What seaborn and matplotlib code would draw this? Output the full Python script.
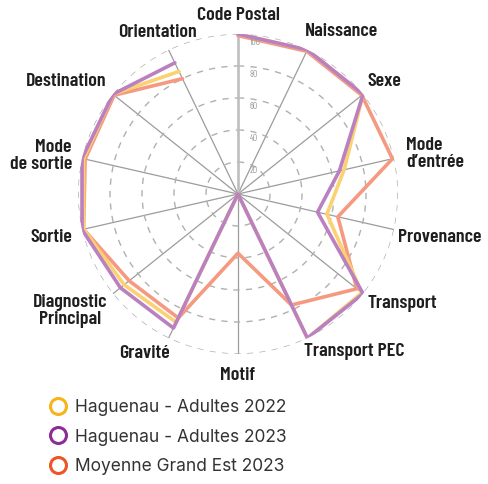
import numpy as np
import matplotlib
matplotlib.use("Agg")
import matplotlib.pyplot as plt
import matplotlib.transforms as mtransforms
from matplotlib.lines import Line2D
import seaborn as sns

# données du radar (lecture du graphique)
axes_labels = ["Code Postal", "Naissance", "Sexe", "Mode\nd’entrée", "Provenance",
               "Transport", "Transport PEC", "Motif", "Gravité", "Diagnostic\nPrincipal",
               "Sortie", "Mode\nde sortie", "Destination", "Orientation"]
hag_2022 = [100, 100, 100, 68, 57, 99, 100, 0, 89, 91, 99, 99, 100, 85]
hag_2023 = [100, 100, 100, 65, 51, 100, 100, 0, 93, 94, 100, 100, 100, 91]
grand_est = [99, 99, 99, 99, 64, 95, 77, 37, 86, 87, 99, 98, 99, 80]
series_names = ["Haguenau - Adultes 2022", "Haguenau - Adultes 2023", "Moyenne Grand Est 2023"]
ring_ticks = [20, 40, 60, 80, 100]

marker_colors = ["#f8b31b", "#8c2c94", "#ef5424"]
line_colors = ["#fbd171", "#ba80c0", "#f59a80"]

sns.set_style("white")
plt.rcParams['font.family'] = ['Inter', 'DejaVu Sans']
label_font = ['Barlow Condensed', 'Roboto Condensed', 'DejaVu Sans']

W, H = 489, 484
fig = plt.figure(figsize=(W / 100, H / 100), dpi=100)
cx, cy, R = 238, 194, 160
ax = fig.add_axes([(cx - R) / W, (H - cy - R) / H, 2 * R / W, 2 * R / H], projection='polar')
ax.set_theta_zero_location('N')
ax.set_theta_direction(-1)

n = len(axes_labels)
theta = np.linspace(0, 2 * np.pi, n, endpoint=False)
theta_closed = np.append(theta, theta[0])

# ordre : orange dessous, violet dessus
for vals, col in [(grand_est, line_colors[2]), (hag_2022, line_colors[0]), (hag_2023, line_colors[1])]:
    v = np.append(vals, vals[0])
    sns.lineplot(x=theta_closed, y=v, sort=False, ax=ax, color=col, linewidth=2.6,
                 legend=False, zorder=3)

ax.set_ylim(0, 100)
ax.set_xticks(theta)
ax.set_xticklabels([])
ax.set_yticks(ring_ticks)
ax.set_yticklabels([])
ax.xaxis.grid(True, color='#9c9c9c', linewidth=0.9, linestyle='-')
ax.yaxis.grid(True, color='#b0b0b0', linewidth=1.0, linestyle=(0, (4.5, 4.5)))
ax.spines['polar'].set_visible(False)
ax.plot([0, 0], [0, 100], color='#bdbdbd', linewidth=1.8, zorder=2)
ax.set_xlabel('')
ax.set_ylabel('')

# étiquettes des anneaux
off = mtransforms.offset_copy(ax.transData, fig=fig, x=12, y=-4, units='dots')
for t in ring_ticks:
    ax.text(0, t, str(t), transform=off, fontsize=6.8, color='#9a9a9a', ha='left', va='top',
            family=label_font, zorder=4)

# étiquettes des axes (ancrage en pixels)
label_layout = [
    ('center', 238, 15), ('left', 305, 32), ('left', 367, 82), ('left', 406, 154),
    ('left', 398, 237), ('left', 368, 303), ('left', 304, 352), ('center', 238, 375),
    ('right', 170, 354), ('center', 70, 311), ('right', 72, 237), ('right', 72, 156),
    ('right', 107, 82), ('right', 197, 33),
]
for lab, (ha, x, y) in zip(axes_labels, label_layout):
    fig.text(x / W, 1 - y / H, lab, ha=ha, va='center', multialignment=ha,
             fontsize=14.3, fontweight='semibold', family=label_font, color='#1e1e1e',
             linespacing=0.95)

handles = [Line2D([], [], linestyle='none', marker='o', markersize=11.5,
                  markerfacecolor='white', markeredgecolor=c, markeredgewidth=2.2)
           for c in marker_colors]
fig.legend(handles, series_names, loc='upper left', bbox_to_anchor=(49 / W, 1 - 399 / H),
           frameon=False, fontsize=12.5, labelspacing=0.72, handlelength=1.0,
           handletextpad=0.5, borderpad=0, borderaxespad=0, labelcolor='#333333')

fig.savefig('out.png', dpi=100, facecolor='white')
